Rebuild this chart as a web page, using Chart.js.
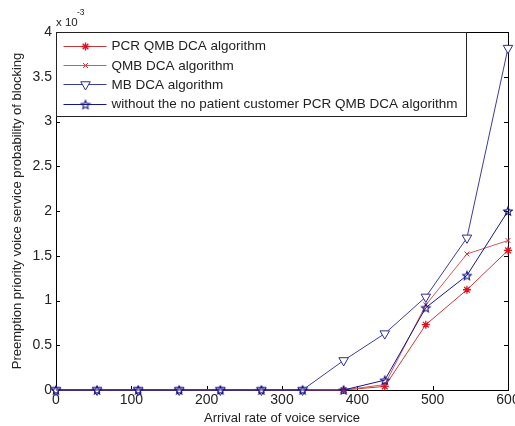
<!DOCTYPE html>
<html>
<head>
<meta charset="utf-8">
<script src="https://cdn.jsdelivr.net/npm/chart.js@4"></script>
<style>
  body { margin: 0; background: #fff; }
  canvas { display: block; }
</style>
</head>
<body>
<canvas id="myChart" width="515" height="426"></canvas>
<script>
// arrival rate of voice service (x axis)
const arrivalRate = [0, 54.5, 109.1, 163.6, 218.2, 272.7, 327.3, 381.8, 436.4, 490.9, 545.5, 600];

// blocking probability, in units of 1e-3
const pcrQmbDca = [0, 0, 0, 0, 0, 0, 0, 0, 0.04, 0.73, 1.12, 1.56];
const qmbDca = [0, 0, 0, 0, 0, 0, 0, 0, 0.06, 0.95, 1.52, 1.67];
const mbDca = [0, 0, 0, 0, 0, 0, 0, 0.33, 0.63, 1.04, 1.7, 3.82];
const withoutNoPatient = [0, 0, 0, 0, 0, 0, 0, 0, 0.11, 0.92, 1.28, 2.0];

const seriesNames = [
    'PCR QMB DCA algorithm',
    'QMB DCA algorithm',
    'MB DCA algorithm',
    'without the no patient customer PCR QMB DCA algorithm'
];

const xTicks = [0, 100, 200, 300, 400, 500, 600];
const yTicks = [0, 0.5, 1, 1.5, 2, 2.5, 3, 3.5, 4];

const FONT = '"Liberation Sans", Arial, Helvetica, sans-serif';

// outline pentagram marker (matlab 'p')
function makePentagram(color, r) {
    const c = document.createElement('canvas');
    const s = Math.ceil(r * 2 + 3);
    c.width = s;
    c.height = s;
    const g = c.getContext('2d');
    g.strokeStyle = color;
    g.lineWidth = 1.1;
    g.beginPath();
    for (let k = 0; k < 10; k++) {
        const rad = k % 2 ? r * 0.45 : r;
        const a = -Math.PI / 2 + k * Math.PI / 5;
        const px = s / 2 + rad * Math.cos(a);
        const py = s / 2 + 0.5 + rad * Math.sin(a);
        if (k === 0) g.moveTo(px, py); else g.lineTo(px, py);
    }
    g.closePath();
    g.stroke();
    return c;
}

function toPoints(ys) {
    return ys.map((y, i) => ({ x: arrivalRate[i], y: y }));
}

const datasets = [
    {
        label: seriesNames[0],
        data: toPoints(pcrQmbDca),
        borderColor: '#c8383c',
        pointBorderColor: '#e3101c',
        pointBackgroundColor: '#e3101c',
        pointStyle: 'star',
        pointRadius: 4,
        pointBorderWidth: 1.3,
        order: 3
    },
    {
        label: seriesNames[1],
        data: toPoints(qmbDca),
        borderColor: '#d4585c',
        pointBorderColor: '#d8303a',
        pointBackgroundColor: '#d8303a',
        pointStyle: 'crossRot',
        pointRadius: 3.5,
        pointBorderWidth: 1,
        order: 2
    },
    {
        label: seriesNames[2],
        data: toPoints(mbDca),
        borderColor: '#3c3c9c',
        pointBorderColor: '#2c2c94',
        pointBackgroundColor: '#ffffff',
        pointStyle: 'triangle',
        pointRotation: 180,
        pointRadius: 5.5,
        pointBorderWidth: 1,
        order: 1
    },
    {
        label: seriesNames[3],
        data: toPoints(withoutNoPatient),
        borderColor: '#16168a',
        pointBorderColor: '#16168a',
        pointBackgroundColor: '#16168a',
        pointStyle: makePentagram('#16168a', 4.5),
        pointRadius: 4.5,
        pointBorderWidth: 1,
        order: 0
    }
];
datasets.forEach(d => {
    d.borderWidth = 1;
    d.fill = false;
    d.tension = 0;
    d.clip = false;
});

// box, inward ticks and the x10^-3 note, like matlab axes
const axesBox = {
    id: 'axesBox',
    beforeDatasetsDraw(chart) {
        const { ctx, chartArea: a } = chart;
        const xs = chart.scales.x;
        const ys = chart.scales.y;
        const tl = 4;
        ctx.save();
        ctx.strokeStyle = '#000';
        ctx.lineWidth = 1;
        ctx.beginPath();
        xTicks.forEach(v => {
            const px = Math.round(xs.getPixelForValue(v)) + 0.5;
            ctx.moveTo(px, a.bottom); ctx.lineTo(px, a.bottom - tl);
            ctx.moveTo(px, a.top); ctx.lineTo(px, a.top + tl);
        });
        yTicks.forEach(v => {
            const py = Math.round(ys.getPixelForValue(v)) + 0.5;
            ctx.moveTo(a.left, py); ctx.lineTo(a.left + tl, py);
            ctx.moveTo(a.right, py); ctx.lineTo(a.right - tl, py);
        });
        ctx.stroke();
        ctx.strokeRect(Math.round(a.left) + 0.5, Math.round(a.top) + 0.5,
            Math.round(a.right - a.left), Math.round(a.bottom - a.top));

        ctx.fillStyle = '#222';
        ctx.textBaseline = 'middle';
        ctx.textAlign = 'left';
        ctx.font = '11.5px ' + FONT;
        ctx.fillText('x 10', a.left, a.top - 9);
        ctx.font = '8.5px ' + FONT;
        ctx.fillText('-3', a.left + 21, a.top - 19);
        ctx.restore();
    },
    afterDraw(chart) {
        // legend box in the top left corner of the axes
        const { ctx, chartArea: a } = chart;
        const h = Chart.helpers;
        const bx = Math.round(a.left) + 0.5;
        const by = Math.round(a.top) + 0.5;
        const bw = 410;
        const bh = 84;
        ctx.save();
        ctx.fillStyle = '#fff';
        ctx.fillRect(bx, by, bw, bh);
        ctx.strokeStyle = '#222';
        ctx.lineWidth = 1;
        ctx.strokeRect(bx, by, bw, bh);
        ctx.font = '13.5px ' + FONT;
        ctx.textBaseline = 'middle';
        ctx.textAlign = 'left';
        chart.data.datasets.forEach((d, i) => {
            const cy = by + 13 + i * 19.4;
            ctx.strokeStyle = d.borderColor;
            ctx.beginPath();
            ctx.moveTo(bx + 7, Math.round(cy) + 0.5);
            ctx.lineTo(bx + 50, Math.round(cy) + 0.5);
            ctx.stroke();
            ctx.strokeStyle = d.pointBorderColor;
            ctx.fillStyle = d.pointBackgroundColor;
            ctx.lineWidth = d.pointBorderWidth;
            h.drawPoint(ctx, {
                pointStyle: d.pointStyle,
                rotation: d.pointRotation || 0,
                radius: d.pointRadius,
                borderWidth: d.pointBorderWidth
            }, bx + 29, Math.round(cy) + 0.5);
            ctx.lineWidth = 1;
            ctx.fillStyle = '#222';
            ctx.fillText(d.label, bx + 55, cy + 1);
        });
        ctx.restore();
    }
};

const ctx = document.getElementById('myChart');

new Chart(ctx, {
    type: 'line',
    data: { datasets: datasets },
    options: {
        responsive: false,
        animation: false,
        devicePixelRatio: 1,
        layout: { padding: { top: 32, right: 7, left: 0, bottom: 0 } },
        plugins: {
            legend: { display: false },
            tooltip: { enabled: false }
        },
        scales: {
            x: {
                type: 'linear',
                min: 0,
                max: 600,
                afterBuildTicks: scale => { scale.ticks = xTicks.map(v => ({ value: v })); },
                grid: { display: false, drawTicks: false },
                border: { display: false },
                ticks: {
                    padding: 2,
                    color: '#222',
                    font: { family: FONT, size: 14 },
                    maxRotation: 0,
                    autoSkip: false
                },
                title: {
                    display: true,
                    text: 'Arrival rate of voice service',
                    color: '#222',
                    font: { family: FONT, size: 13 },
                    padding: { top: 0, bottom: 0 }
                },
                afterFit: scale => {
                    scale.height = 36;
                    scale.paddingLeft = 0;
                    scale.paddingRight = 0;
                }
            },
            y: {
                type: 'linear',
                min: 0,
                max: 4,
                afterBuildTicks: scale => { scale.ticks = yTicks.map(v => ({ value: v })); },
                grid: { display: false, drawTicks: false },
                border: { display: false },
                ticks: {
                    padding: 4,
                    color: '#222',
                    font: { family: FONT, size: 14 },
                    autoSkip: false,
                    callback: v => String(+v.toFixed(1))
                },
                title: {
                    display: true,
                    text: 'Preemption priority voice service probability of blocking',
                    color: '#222',
                    font: { family: FONT, size: 13 },
                    padding: { top: 10, bottom: 0 }
                },
                afterFit: scale => {
                    scale.width = 56;
                    scale.paddingTop = 0;
                    scale.paddingBottom = 0;
                }
            }
        }
    },
    plugins: [axesBox]
});
</script>
</body>
</html>
